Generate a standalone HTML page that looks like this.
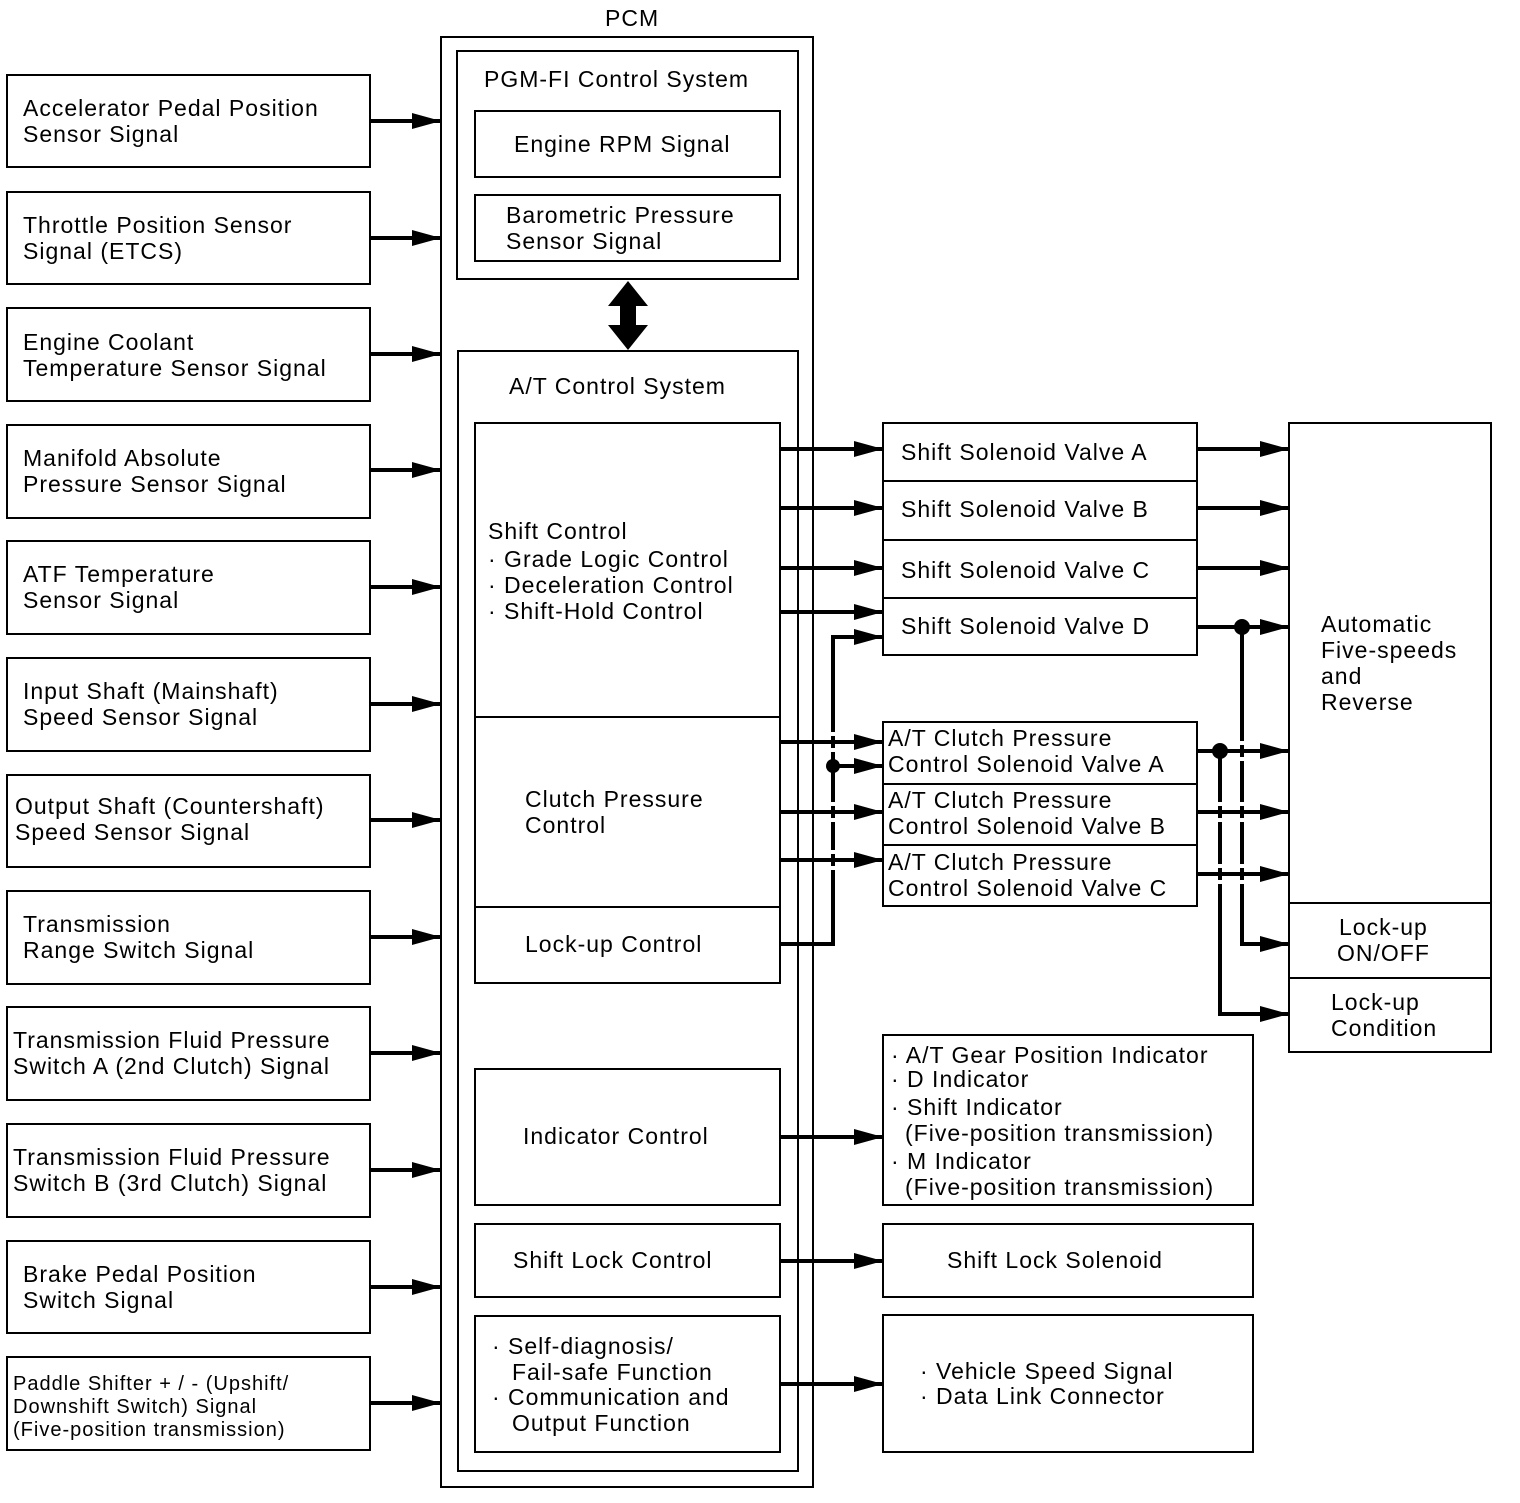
<!DOCTYPE html>
<html><head><meta charset="utf-8"><style>
html,body{margin:0;padding:0;background:#fff}
svg text{font-family:"Liberation Sans",Arial,sans-serif;font-size:23px;fill:#000;letter-spacing:1px}
</style></head><body>
<svg width="1520" height="1498" viewBox="0 0 1520 1498" xmlns="http://www.w3.org/2000/svg">
<defs>
<marker id="a" markerUnits="userSpaceOnUse" markerWidth="29" markerHeight="20" refX="29" refY="10" orient="auto"><polygon points="0,2 29,10 0,18" fill="#000"/></marker>
</defs>
<g fill="none" stroke="#000" stroke-width="2">
<rect x="7" y="75" width="363" height="92"/>
<rect x="7" y="192" width="363" height="92"/>
<rect x="7" y="308" width="363" height="93"/>
<rect x="7" y="425" width="363" height="93"/>
<rect x="7" y="541" width="363" height="93"/>
<rect x="7" y="658" width="363" height="93"/>
<rect x="7" y="775" width="363" height="92"/>
<rect x="7" y="891" width="363" height="93"/>
<rect x="7" y="1007" width="363" height="93"/>
<rect x="7" y="1124" width="363" height="93"/>
<rect x="7" y="1241" width="363" height="92"/>
<rect x="7" y="1357" width="363" height="93"/>
<rect x="441" y="37" width="372" height="1450"/>
<rect x="457" y="51" width="341" height="228"/>
<rect x="475" y="111" width="305" height="66"/>
<rect x="475" y="195" width="305" height="66"/>
<rect x="458" y="351" width="340" height="1120"/>
<rect x="475" y="423" width="305" height="560"/>
<line x1="475" y1="717" x2="780" y2="717"/>
<line x1="475" y1="907" x2="780" y2="907"/>
<rect x="475" y="1069" width="305" height="136"/>
<rect x="475" y="1224" width="305" height="73"/>
<rect x="475" y="1316" width="305" height="136"/>
<rect x="883" y="423" width="314" height="232"/>
<line x1="883" y1="481" x2="1197" y2="481"/>
<line x1="883" y1="540" x2="1197" y2="540"/>
<line x1="883" y1="598" x2="1197" y2="598"/>
<rect x="883" y="722" width="314" height="184"/>
<line x1="883" y1="784" x2="1197" y2="784"/>
<line x1="883" y1="845" x2="1197" y2="845"/>
<rect x="1289" y="423" width="202" height="629"/>
<line x1="1289" y1="903" x2="1491" y2="903"/>
<line x1="1289" y1="978" x2="1491" y2="978"/>
<rect x="883" y="1035" width="370" height="170"/>
<rect x="883" y="1224" width="370" height="73"/>
<rect x="883" y="1315" width="370" height="137"/>
</g>
<g stroke="#000" stroke-width="4" fill="none" marker-end="url(#a)">
<line x1="370" y1="121" x2="441" y2="121"/>
<line x1="370" y1="238" x2="441" y2="238"/>
<line x1="370" y1="354" x2="441" y2="354"/>
<line x1="370" y1="470" x2="441" y2="470"/>
<line x1="370" y1="587" x2="441" y2="587"/>
<line x1="370" y1="704" x2="441" y2="704"/>
<line x1="370" y1="820" x2="441" y2="820"/>
<line x1="370" y1="937" x2="441" y2="937"/>
<line x1="370" y1="1053" x2="441" y2="1053"/>
<line x1="370" y1="1170" x2="441" y2="1170"/>
<line x1="370" y1="1287" x2="441" y2="1287"/>
<line x1="370" y1="1403" x2="441" y2="1403"/>
<line x1="780" y1="449" x2="883" y2="449"/>
<line x1="780" y1="508" x2="883" y2="508"/>
<line x1="780" y1="568" x2="883" y2="568"/>
<line x1="780" y1="612" x2="883" y2="612"/>
<polyline points="780,944 833,944 833,637 883,637"/>
<line x1="780" y1="742" x2="883" y2="742"/>
<line x1="833" y1="766" x2="883" y2="766"/>
<line x1="780" y1="812" x2="883" y2="812"/>
<line x1="780" y1="860" x2="883" y2="860"/>
<line x1="1197" y1="449" x2="1289" y2="449"/>
<line x1="1197" y1="508" x2="1289" y2="508"/>
<line x1="1197" y1="568" x2="1289" y2="568"/>
<line x1="1197" y1="627" x2="1289" y2="627"/>
<line x1="1197" y1="751" x2="1289" y2="751"/>
<line x1="1197" y1="812" x2="1289" y2="812"/>
<line x1="1197" y1="874" x2="1289" y2="874"/>
<polyline points="1242,627 1242,944 1289,944"/>
<polyline points="1220,751 1220,1014 1289,1014"/>
<line x1="780" y1="1137" x2="883" y2="1137"/>
<line x1="780" y1="1261" x2="883" y2="1261"/>
<line x1="780" y1="1384" x2="883" y2="1384"/>
</g>
<g fill="#fff">
<rect x="829" y="732" width="8" height="4"/><rect x="829" y="748" width="8" height="4"/>
<rect x="829" y="802" width="8" height="4"/><rect x="829" y="818" width="8" height="4"/>
<rect x="829" y="850" width="8" height="4"/><rect x="829" y="866" width="8" height="4"/>
<rect x="1238" y="741" width="8" height="4"/><rect x="1238" y="757" width="8" height="4"/>
<rect x="1238" y="802" width="8" height="4"/><rect x="1238" y="818" width="8" height="4"/>
<rect x="1238" y="864" width="8" height="4"/><rect x="1238" y="880" width="8" height="4"/>
<rect x="1216" y="802" width="8" height="4"/><rect x="1216" y="818" width="8" height="4"/>
<rect x="1216" y="864" width="8" height="4"/><rect x="1216" y="880" width="8" height="4"/>
</g>
<g fill="#000">
<circle cx="833" cy="766" r="7"/>
<circle cx="1242" cy="627" r="8"/>
<circle cx="1220" cy="751" r="8"/>
<polygon points="628,281 648,306 636,306 636,325 648,325 628,350 608,325 620,325 620,306 608,306"/>
</g>
<g>
<text x="605" y="26">PCM</text>
<text x="23" y="116">Accelerator Pedal Position</text><text x="23" y="142">Sensor Signal</text>
<text x="23" y="233">Throttle Position Sensor</text><text x="23" y="259">Signal (ETCS)</text>
<text x="23" y="350">Engine Coolant</text><text x="23" y="376">Temperature Sensor Signal</text>
<text x="23" y="466">Manifold Absolute</text><text x="23" y="492">Pressure Sensor Signal</text>
<text x="23" y="582">ATF Temperature</text><text x="23" y="608">Sensor Signal</text>
<text x="23" y="699">Input Shaft (Mainshaft)</text><text x="23" y="725">Speed Sensor Signal</text>
<text x="15" y="814">Output Shaft (Countershaft)</text><text x="15" y="840">Speed Sensor Signal</text>
<text x="23" y="932">Transmission</text><text x="23" y="958">Range Switch Signal</text>
<text x="13" y="1048">Transmission Fluid Pressure</text><text x="13" y="1074">Switch A (2nd Clutch) Signal</text>
<text x="13" y="1165">Transmission Fluid Pressure</text><text x="13" y="1191">Switch B (3rd Clutch) Signal</text>
<text x="23" y="1282">Brake Pedal Position</text><text x="23" y="1308">Switch Signal</text>
<text x="13" y="1390" style="font-size:20px">Paddle Shifter  + / -  (Upshift/</text><text x="13" y="1413" style="font-size:20px">Downshift Switch) Signal</text><text x="13" y="1436" style="font-size:20px">(Five-position transmission)</text>
<text x="484" y="87">PGM-FI Control System</text>
<text x="514" y="152">Engine RPM Signal</text>
<text x="506" y="223">Barometric Pressure</text><text x="506" y="249">Sensor Signal</text>
<text x="509" y="394">A/T Control System</text>
<text x="488" y="539">Shift Control</text>
<text x="488" y="567">· Grade Logic Control</text>
<text x="488" y="593">· Deceleration Control</text>
<text x="488" y="619">· Shift-Hold Control</text>
<text x="525" y="807">Clutch Pressure</text><text x="525" y="833">Control</text>
<text x="525" y="952">Lock-up Control</text>
<text x="523" y="1144">Indicator Control</text>
<text x="513" y="1268">Shift Lock Control</text>
<text x="492" y="1354">·  Self-diagnosis/</text><text x="512" y="1380">Fail-safe Function</text>
<text x="492" y="1405">·  Communication and</text><text x="512" y="1431">Output Function</text>
<text x="901" y="460">Shift Solenoid Valve A</text>
<text x="901" y="517">Shift Solenoid Valve B</text>
<text x="901" y="578">Shift Solenoid Valve C</text>
<text x="901" y="634">Shift Solenoid Valve D</text>
<text x="888" y="746">A/T Clutch Pressure</text><text x="888" y="772">Control Solenoid Valve A</text>
<text x="888" y="808">A/T Clutch Pressure</text><text x="888" y="834">Control Solenoid Valve B</text>
<text x="888" y="870">A/T Clutch Pressure</text><text x="888" y="896">Control Solenoid Valve C</text>
<text x="1321" y="632">Automatic</text><text x="1321" y="658">Five-speeds</text><text x="1321" y="684">and</text><text x="1321" y="710">Reverse</text>
<text x="1339" y="935">Lock-up</text><text x="1337" y="961">ON/OFF</text>
<text x="1331" y="1010">Lock-up</text><text x="1331" y="1036">Condition</text>
<text x="891" y="1063">· A/T Gear Position Indicator</text>
<text x="891" y="1087">· D Indicator</text>
<text x="891" y="1115">· Shift Indicator</text>
<text x="905" y="1141">(Five-position transmission)</text>
<text x="891" y="1169">· M Indicator</text>
<text x="905" y="1195">(Five-position transmission)</text>
<text x="947" y="1268">Shift Lock Solenoid</text>
<text x="920" y="1379">·  Vehicle Speed Signal</text>
<text x="920" y="1404">·  Data Link Connector</text>
</g>
</svg>
</body></html>
